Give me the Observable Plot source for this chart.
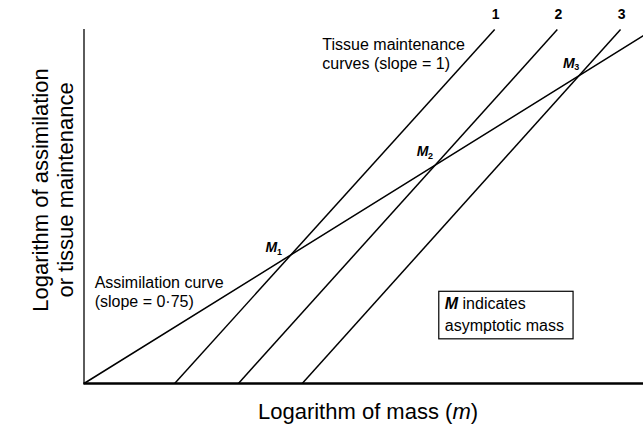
<!DOCTYPE html>
<html>
<head>
<meta charset="utf-8">
<script src="https://cdn.jsdelivr.net/npm/d3@7"></script>
<script src="https://cdn.jsdelivr.net/npm/@observablehq/plot@0.6"></script>
<style>
  html, body { margin: 0; padding: 0; background: white; }
  #chart svg { display: block; }
</style>
</head>
<body>
<div id="chart"></div>
<script>
// ---- data (log units) ----
const assimilationX = [0, 10];
const assimilationY = [0, 6.22];

const maintenanceIds = ["1", "2", "3"];
const maintenanceStartX = [1.62, 2.76, 3.90];
const maintenanceStartY = [0, 0, 0];
const maintenanceEndX = [7.34, 8.46, 9.59];
const maintenanceEndY = [6.33, 6.33, 6.33];

const asymptoteIds = ["1", "2", "3"];
const asymptoteX = [3.60, 6.23, 8.86];
const asymptoteY = [2.23, 3.86, 5.49];

const xDomain = [0, 10];
const yDomain = [0, 6.33];

// ---- tables built from the arrays ----
const assimilation = assimilationX.map((x, i) => ({x, y: assimilationY[i]}));
const maintenance = maintenanceIds.map((id, i) => ({
  id, x1: maintenanceStartX[i], y1: maintenanceStartY[i], x2: maintenanceEndX[i], y2: maintenanceEndY[i]
}));
const asymptotes = asymptoteIds.map((id, i) => ({id, x: asymptoteX[i], y: asymptoteY[i]}));

const FONT = "'Liberation Sans', Arial, Helvetica, sans-serif";
// label offsets (layout) for the M labels
const mOffsets = [{dx: -14, dy: -11}, {dx: -10, dy: -16}, {dx: -11, dy: -13}];

const chart = Plot.plot({
  width: 643,
  height: 437,
  marginLeft: 83.5,
  marginRight: 0,
  marginTop: 29,
  marginBottom: 54,
  x: {domain: xDomain, axis: null},
  y: {domain: yDomain, axis: null},
  style: {fontFamily: FONT, background: "white", color: "black"},
  marks: [
    Plot.ruleX([0], {stroke: "#333", strokeWidth: 1.6}),
    Plot.ruleY([0], {stroke: "black", strokeWidth: 2.4}),
    Plot.line(assimilation, {x: "x", y: "y", stroke: "black", strokeWidth: 1.5}),
    Plot.link(maintenance, {x1: "x1", y1: "y1", x2: "x2", y2: "y2", stroke: "black", strokeWidth: 1.5}),
    Plot.text(maintenance, {x: "x2", y: "y2", text: "id", dy: -15, dx: 1, fontWeight: "bold", fontSize: 14}),
    ...asymptotes.map((d, i) => Plot.text([d], {
      x: "x", y: "y", text: () => "M", dx: mOffsets[i].dx, dy: mOffsets[i].dy,
      fontWeight: "bold", fontStyle: "italic", fontSize: 14
    })),
    ...asymptotes.map((d, i) => Plot.text([d], {
      x: "x", y: "y", text: "id", dx: mOffsets[i].dx + 8, dy: mOffsets[i].dy + 4,
      fontWeight: "bold", fontSize: 9
    })),
    Plot.text(["Tissue maintenance\ncurves (slope = 1)"], {
      x: 4.26, y: 5.91, textAnchor: "start", fontSize: 16, lineHeight: 1.19
    }),
    Plot.text(["Assimilation curve\n(slope = 0·75)"], {
      x: 0.19, y: 1.64, textAnchor: "start", fontSize: 16, lineHeight: 1.19
    }),
    Plot.rect([0], {x1: 6.35, x2: 8.75, y1: 0.79, y2: 1.64, fill: "none", stroke: "black", strokeWidth: 1.2})
  ]
});

document.getElementById("chart").appendChild(chart);

// ---- rich-text annotations (italic/bold fragments) ----
const svg = d3.select(chart);
const sx = chart.scale("x"), sy = chart.scale("y");
const boxLeft = sx.apply(6.35), boxTop = sy.apply(1.64);

const box1 = svg.append("text")
  .attr("x", boxLeft + 6).attr("y", boxTop + 12).attr("dy", "0.35em").attr("text-anchor", "start")
  .attr("font-family", FONT).attr("font-size", 16).attr("fill", "black");
box1.append("tspan").attr("font-weight", "bold").attr("font-style", "italic").text("M");
box1.append("tspan").text(" indicates");
svg.append("text")
  .attr("x", boxLeft + 6).attr("y", boxTop + 34).attr("dy", "0.35em").attr("text-anchor", "start")
  .attr("font-family", FONT).attr("font-size", 16).attr("fill", "black")
  .text("asymptotic mass");

// x-axis title
const xt = svg.append("text")
  .attr("x", 368).attr("y", 411).attr("dy", "0.35em").attr("text-anchor", "middle")
  .attr("font-family", FONT).attr("font-size", 22).attr("fill", "black");
xt.append("tspan").text("Logarithm of mass (");
xt.append("tspan").attr("font-style", "italic").text("m");
xt.append("tspan").text(")");

// y-axis title (two lines)
const yt = svg.append("g").attr("transform", "translate(52,190) rotate(-90)");
yt.append("text").attr("x", 0).attr("y", -12).attr("dy", "0.35em").attr("text-anchor", "middle")
  .attr("font-family", FONT).attr("font-size", 22).attr("fill", "black")
  .text("Logarithm of assimilation");
yt.append("text").attr("x", 0).attr("y", 13).attr("dy", "0.35em").attr("text-anchor", "middle")
  .attr("font-family", FONT).attr("font-size", 22).attr("fill", "black")
  .text("or tissue maintenance");
</script>
</body>
</html>
